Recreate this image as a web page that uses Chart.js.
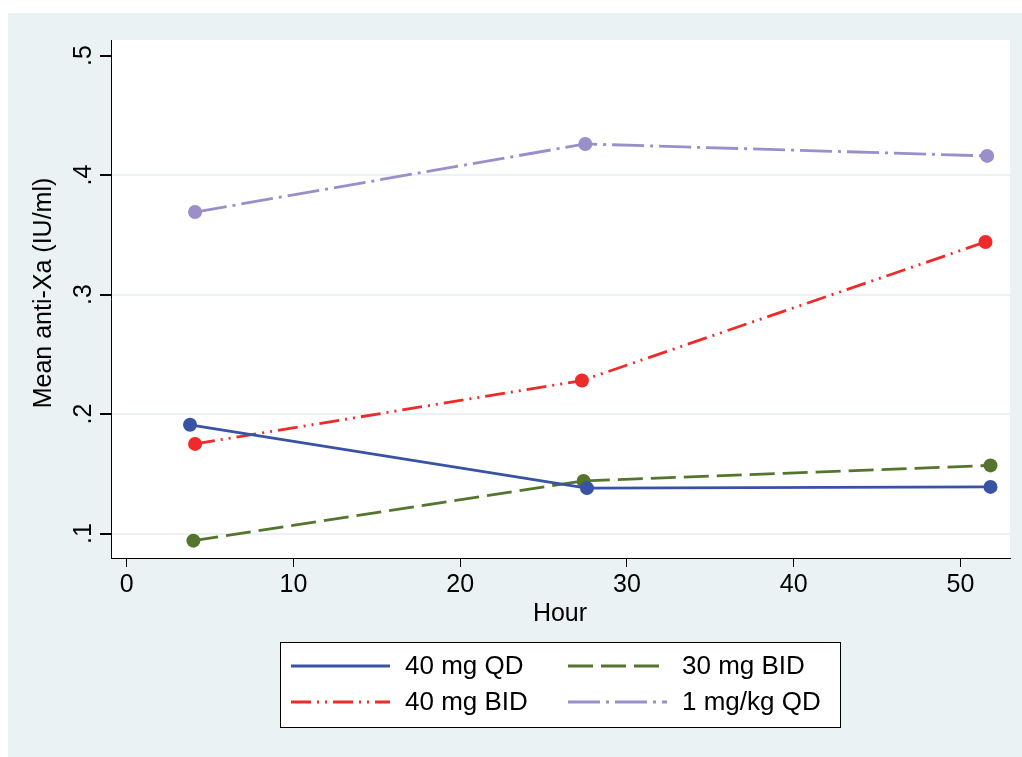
<!DOCTYPE html>
<html>
<head>
<meta charset="utf-8">
<script src="https://cdn.jsdelivr.net/npm/chart.js@4/dist/chart.umd.min.js"></script>
<style>
html,body{margin:0;padding:0;background:#fff;}
#wrap{width:1022px;height:757px;position:relative;}
</style>
</head>
<body>
<div id="wrap"><canvas id="c" width="1022" height="757"></canvas></div>
<script>
// ---- data ----
const seriesNames = ["40 mg QD", "40 mg BID", "30 mg BID", "1 mg/kg QD"];
const hoursQD40  = [3.8, 27.6, 51.8];
const valuesQD40 = [0.191, 0.138, 0.139];
const hoursBID40  = [4.1, 27.3, 51.5];
const valuesBID40 = [0.175, 0.228, 0.344];
const hoursBID30  = [4.0, 27.4, 51.8];
const valuesBID30 = [0.094, 0.144, 0.157];
const hoursKG1  = [4.1, 27.5, 51.6];
const valuesKG1 = [0.369, 0.426, 0.416];
const xTicks = [0, 10, 20, 30, 40, 50];
const yTicks = [0.1, 0.2, 0.3, 0.4, 0.5];
const yTickLabels = [".1", ".2", ".3", ".4", ".5"];
const xTitle = "Hour";
const yTitle = "Mean anti-Xa (IU/ml)";

// ---- styles ----
const colors = ["#3953a4", "#ee2a2a", "#55752f", "#9a8fc8"];
const dashes = [[], [20, 6, 2, 6, 2, 6], [25, 8], [32, 6, 3, 6]];
const FAM = "'Liberation Sans', Arial, sans-serif";
const FONT = "25px " + FAM;
const LFONT = "26px " + FAM;
const BG = "#eaf2f3";

function pts(xs, ys) { return xs.map((x, i) => ({x: x, y: ys[i]})); }
const seriesData = [pts(hoursQD40, valuesQD40), pts(hoursBID40, valuesBID40), pts(hoursBID30, valuesBID30), pts(hoursKG1, valuesKG1)];

const datasets = seriesData.map((d, i) => ({
  label: seriesNames[i],
  data: d,
  borderColor: colors[i],
  backgroundColor: colors[i],
  borderWidth: 2.8,
  borderDash: dashes[i],
  pointRadius: 7,
  pointHoverRadius: 7,
  pointBorderWidth: 0,
  pointBackgroundColor: colors[i],
  tension: 0,
  fill: false
}));

const decor = {
  id: 'decor',
  beforeDraw(chart) {
    const ctx = chart.ctx, a = chart.chartArea;
    ctx.save();
    ctx.fillStyle = '#fff';
    ctx.fillRect(0, 0, chart.width, chart.height);
    ctx.fillStyle = BG;
    ctx.fillRect(8, 13, chart.width - 8, chart.height - 13);
    ctx.fillStyle = '#fff';
    ctx.fillRect(a.left, a.top, a.right - a.left, a.bottom - a.top);
    ctx.restore();
  },
  afterDraw(chart) {
    const ctx = chart.ctx, ys = chart.scales.y;
    ctx.save();
    ctx.fillStyle = '#000';
    ctx.font = FONT;
    ctx.textAlign = 'center';
    ctx.textBaseline = 'middle';
    // y tick labels (rotated)
    yTicks.forEach((v, i) => {
      const py = ys.getPixelForValue(v);
      ctx.save();
      ctx.translate(84, py);
      ctx.rotate(-Math.PI / 2);
      ctx.fillText(yTickLabels[i], 0, 0);
      ctx.restore();
    });
    // y title
    ctx.save();
    ctx.translate(44, 293);
    ctx.rotate(-Math.PI / 2);
    ctx.fillText(yTitle, 0, 0);
    ctx.restore();
    // x title
    ctx.fillText(xTitle, 560, 614);
    // legend
    const L = 280, T = 642, R = 840, B = 727;
    ctx.fillStyle = '#fff';
    ctx.fillRect(L, T, R - L, B - T);
    ctx.strokeStyle = '#000';
    ctx.lineWidth = 1;
    ctx.strokeRect(L + 0.5, T + 0.5, R - L, B - T);
    ctx.font = LFONT;
    const slots = [
      {i: 0, x1: 291, x2: 390, tx: 405, y: 666},
      {i: 2, x1: 568, x2: 667, tx: 682, y: 666},
      {i: 1, x1: 291, x2: 390, tx: 405, y: 702},
      {i: 3, x1: 568, x2: 667, tx: 682, y: 702}
    ];
    slots.forEach(s => {
      ctx.save();
      ctx.strokeStyle = colors[s.i];
      ctx.lineWidth = 2.8;
      ctx.setLineDash(dashes[s.i]);
      ctx.beginPath();
      ctx.moveTo(s.x1, s.y);
      ctx.lineTo(s.x2, s.y);
      ctx.stroke();
      ctx.restore();
      ctx.fillStyle = '#000';
      ctx.textAlign = 'left';
      ctx.fillText(seriesNames[s.i], s.tx, s.y + 1);
    });
    ctx.restore();
  }
};

new Chart(document.getElementById('c'), {
  type: 'line',
  data: {datasets: datasets},
  options: {
    responsive: false,
    animation: false,
    devicePixelRatio: 1,
    layout: {padding: {left: 81, right: 12, top: 40, bottom: 159}},
    plugins: {legend: {display: false}, tooltip: {enabled: false}, title: {display: false}},
    scales: {
      x: {
        type: 'linear',
        min: -0.94,
        max: 52.97,
        afterBuildTicks(s) { s.ticks = xTicks.map(v => ({value: v})); },
        afterFit(s) { s.height = 40; },
        grid: {color: 'rgba(0,0,0,0)', tickColor: '#000', tickLength: 9, drawTicks: true, lineWidth: 1},
        border: {display: true, color: '#000', width: 1},
        ticks: {color: '#000', font: {family: FAM, size: 25}, padding: 3, maxRotation: 0, autoSkip: false}
      },
      y: {
        type: 'linear',
        min: 0.0795,
        max: 0.513,
        afterBuildTicks(s) { s.ticks = yTicks.map(v => ({value: v})); },
        afterFit(s) { s.width = 30; },
        grid: {
          color: c => (c.tick && Math.abs(c.tick.value - 0.5) < 1e-9) ? 'rgba(0,0,0,0)' : BG,
          lineWidth: 2,
          tickColor: '#000',
          tickLength: 11,
          drawTicks: true
        },
        border: {display: true, color: '#000', width: 1},
        ticks: {display: false}
      }
    }
  },
  plugins: [decor]
});
</script>
</body>
</html>
